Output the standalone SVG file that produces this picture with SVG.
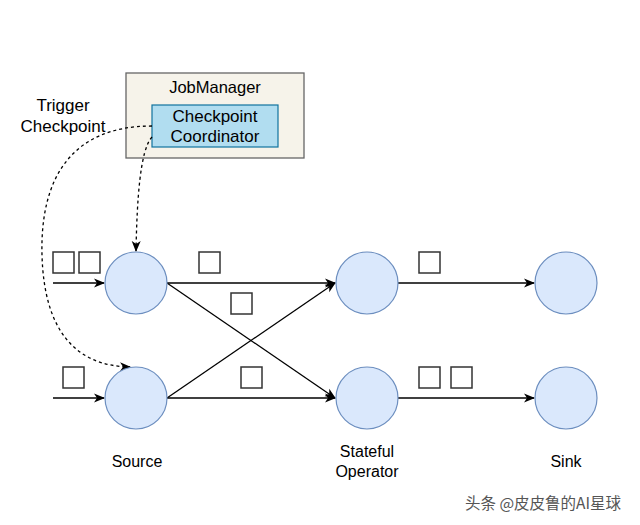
<svg xmlns="http://www.w3.org/2000/svg" width="640" height="525" viewBox="0 0 640 525">
<style>
text{font-family:"Liberation Sans",Arial,sans-serif;font-size:17px;fill:#000;text-anchor:middle}
.node{fill:#dae8fc;stroke:#6c8ebf;stroke-width:1.2}
.edge{fill:none;stroke:#000;stroke-width:1.3}
.dash{fill:none;stroke:#000;stroke-width:1.3;stroke-dasharray:3 3}
.sq{fill:#fff;stroke:#333;stroke-width:1.5}
</style>
<defs>
<marker id="arr" markerWidth="11" markerHeight="11" refX="10" refY="5.5" orient="auto" markerUnits="userSpaceOnUse">
<path d="M0,1 L11,5.5 L0,10 L3,5.5 Z" fill="#000"/>
</marker>
</defs>
<rect width="640" height="525" fill="#fff"/>
<g id="jobmanager">
<rect x="126" y="73" width="178" height="85" fill="#f6f3ea" stroke="#666" stroke-width="1.3"/>
<text x="215" y="93" style="font-size:16.5px">JobManager</text>
</g>
<g id="coordinator">
<rect x="152" y="105" width="126" height="42" fill="#b1ddf0" stroke="#10739e" stroke-width="1.2"/>
<text x="215" y="122">Checkpoint</text>
<text x="215" y="142">Coordinator</text>
</g>
<g id="trigger-label">
<text x="63" y="111">Trigger</text>
<text x="63" y="132">Checkpoint</text>
</g>
<g id="connectors">
<path class="dash" d="M152,126 C70,126 40,180 42,255 C44,330 75,366 130,367" marker-end="url(#arr)"/>
<path class="dash" d="M152,137 C140,150 137,200 136,251" marker-end="url(#arr)"/>
<line class="edge" x1="53" y1="283" x2="104" y2="283" marker-end="url(#arr)"/>
<line class="edge" x1="53" y1="398" x2="104" y2="398" marker-end="url(#arr)"/>
<line class="edge" x1="167" y1="283" x2="335" y2="283" marker-end="url(#arr)"/>
<line class="edge" x1="167" y1="283" x2="335" y2="398" marker-end="url(#arr)"/>
<line class="edge" x1="167" y1="398" x2="335" y2="283" marker-end="url(#arr)"/>
<line class="edge" x1="167" y1="398" x2="335" y2="398" marker-end="url(#arr)"/>
<line class="edge" x1="398" y1="283" x2="534" y2="283" marker-end="url(#arr)"/>
<line class="edge" x1="398" y1="398" x2="534" y2="398" marker-end="url(#arr)"/>
</g>
<g id="source1"><circle class="node" cx="136" cy="283" r="31"/></g>
<g id="source2"><circle class="node" cx="136" cy="398" r="31"/></g>
<g id="stateful1"><circle class="node" cx="367" cy="283" r="31"/></g>
<g id="stateful2"><circle class="node" cx="367" cy="398" r="31"/></g>
<g id="sink1"><circle class="node" cx="566" cy="283" r="31"/></g>
<g id="sink2"><circle class="node" cx="566" cy="398" r="31"/></g>
<g id="barriers">
<rect class="sq" x="53" y="252" width="21" height="21"/>
<rect class="sq" x="79" y="252" width="21" height="21"/>
<rect class="sq" x="199" y="252" width="21" height="21"/>
<rect class="sq" x="231" y="293" width="21" height="21"/>
<rect class="sq" x="63" y="367" width="21" height="21"/>
<rect class="sq" x="241" y="367" width="21" height="21"/>
<rect class="sq" x="419" y="252" width="21" height="21"/>
<rect class="sq" x="419" y="367" width="21" height="21"/>
<rect class="sq" x="451" y="367" width="21" height="21"/>
</g>
<g id="labels">
<text x="137" y="467" style="font-size:16px">Source</text>
<text x="367" y="457" style="font-size:16px">Stateful</text>
<text x="367" y="477" style="font-size:16px">Operator</text>
<text x="566" y="467" style="font-size:16px">Sink</text>
</g>
<text x="543" y="509" style="font-family:'Noto Sans CJK SC','Liberation Sans',sans-serif;font-size:15.5px;fill:#555">头条 @皮皮鲁的AI星球</text>
</svg>
